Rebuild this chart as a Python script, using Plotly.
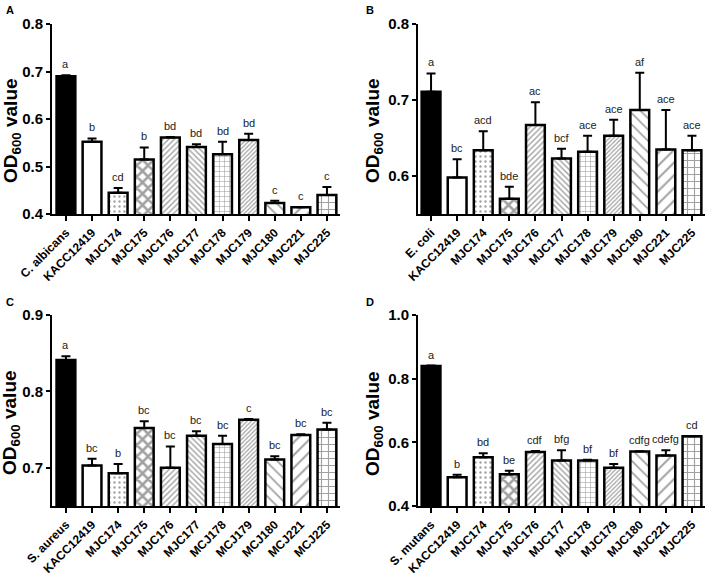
import plotly.graph_objects as go

W, H = 708, 580

cats_A = ["C. albicans", "KACC12419", "MJC174", "MJC175", "MJC176", "MJC177",
          "MJC178", "MJC179", "MJC180", "MJC221", "MJC225"]
vals_A = [0.690, 0.552, 0.445, 0.515, 0.561, 0.541, 0.526, 0.556, 0.423, 0.414, 0.440]
err_A = [0.002, 0.007, 0.010, 0.025, 0.001, 0.006, 0.026, 0.013, 0.005, 0.001, 0.017]
lab_A = ["a", "b", "cd", "b", "bd", "bd", "bd", "bd", "c", "c", "c"]

cats_B = ["E. coli", "KACC12419", "MJC174", "MJC175", "MJC176", "MJC177",
          "MJC178", "MJC179", "MJC180", "MJC221", "MJC225"]
vals_B = [0.711, 0.598, 0.634, 0.570, 0.667, 0.623, 0.632, 0.653, 0.687, 0.635, 0.634]
err_B = [0.024, 0.024, 0.025, 0.016, 0.030, 0.013, 0.021, 0.021, 0.049, 0.052, 0.019]
lab_B = ["a", "bc", "acd", "bde", "ac", "bcf", "ace", "ace", "af", "ace", "ace"]

cats_C = ["S. aureus", "KACC12419", "MJC174", "MJC175", "MJC176", "MJC177",
          "MCJ178", "MCJ179", "MCJ180", "MCJ221", "MCJ225"]
vals_C = [0.841, 0.703, 0.693, 0.752, 0.700, 0.742, 0.731, 0.763, 0.711, 0.743, 0.750]
err_C = [0.005, 0.009, 0.012, 0.009, 0.028, 0.006, 0.011, 0.001, 0.004, 0.001, 0.009]
lab_C = ["a", "bc", "b", "bc", "bc", "bc", "bc", "c", "bc", "bc", "bc"]

cats_D = ["S. mutans", "KACC12419", "MJC174", "MJC175", "MJC176", "MJC177",
          "MJC178", "MJC179", "MJC180", "MJC221", "MJC225"]
vals_D = [0.840, 0.490, 0.553, 0.500, 0.570, 0.543, 0.543, 0.520, 0.571, 0.559, 0.619]
err_D = [0.001, 0.008, 0.013, 0.011, 0.003, 0.032, 0.002, 0.012, 0.001, 0.016, 0.001]
lab_D = ["a", "b", "bd", "be", "cdf", "bfg", "bf", "bf", "cdfg", "cdefg", "cd"]

# fill styles per strain position
fill_colors = ["black"] + ["white"] * 10
pat_shapes = ["", "", ".", "x", "/", "\\", "+", "/", "\\", "/", "+"]
pat_sizes = [6, 6, 5, 8, 4, 4, 5, 3, 8, 9, 7]
pat_solid = [0.3, 0.3, 0.18, 0.55, 0.35, 0.35, 0.22, 0.4, 0.22, 0.22, 0.3]

panels = [
    dict(cats=cats_A, vals=vals_A, err=err_A, lab=lab_A, letter="A",
         xdom=(52, 340), ydom=(24, 214), yr=(0.4, 0.8), dt=0.1, x0=-0.534,
         tx=12, ty=131, lx=4, ly=2),
    dict(cats=cats_B, vals=vals_B, err=err_B, lab=lab_B, letter="B",
         xdom=(418, 705), ydom=(24, 214), yr=(0.55, 0.8), dt=0.1, x0=-0.5,
         tx=374, ty=131, lx=364, ly=2),
    dict(cats=cats_C, vals=vals_C, err=err_C, lab=lab_C, letter="C",
         xdom=(52, 340), ydom=(315, 506), yr=(0.65, 0.9), dt=0.1, x0=-0.534,
         tx=11, ty=423, lx=4, ly=294),
    dict(cats=cats_D, vals=vals_D, err=err_D, lab=lab_D, letter="D",
         xdom=(418, 705), ydom=(315, 506), yr=(0.4, 1.0), dt=0.2, x0=-0.5,
         tx=374, ty=424, lx=364, ly=294),
]

fig = go.Figure()
annotations = []
layout = {}
for i, p in enumerate(panels):
    n = i + 1
    xa = "x" if n == 1 else f"x{n}"
    ya = "y" if n == 1 else f"y{n}"
    xs = list(range(len(p["cats"])))
    fig.add_trace(go.Bar(
        x=xs, y=p["vals"], xaxis=xa, yaxis=ya, width=0.72,
        marker=dict(color=fill_colors, line=dict(color="black", width=2.5),
                    pattern=dict(shape=pat_shapes, size=pat_sizes,
                                 solidity=pat_solid, fgcolor="black")),
        error_y=dict(type="data", symmetric=False, array=p["err"],
                     arrayminus=[0] * len(xs), color="black",
                     thickness=2, width=4.5),
        showlegend=False, hoverinfo="skip"))
    for xi, v, e, t in zip(xs, p["vals"], p["err"], p["lab"]):
        annotations.append(dict(x=xi, y=v + e, xref=xa, yref=ya, text=t,
                                showarrow=False, xanchor="center",
                                yanchor="bottom", yshift=3,
                                font=dict(family="Liberation Sans", size=11,
                                          color="#222222")))
    annotations.append(dict(x=p["tx"] / W, y=1 - p["ty"] / H, xref="paper",
                            yref="paper", text="OD<sub>600</sub> value",
                            textangle=-90, showarrow=False,
                            xanchor="center", yanchor="middle",
                            font=dict(family="Liberation Sans", size=19,
                                      color="black", weight="bold")))
    annotations.append(dict(x=p["lx"] / W, y=1 - p["ly"] / H, xref="paper",
                            yref="paper", text=p["letter"], showarrow=False,
                            xanchor="left", yanchor="top",
                            font=dict(family="Liberation Sans", size=11,
                                      color="black", weight="bold")))
    xkey = "xaxis" if n == 1 else f"xaxis{n}"
    ykey = "yaxis" if n == 1 else f"yaxis{n}"
    layout[xkey] = dict(domain=[p["xdom"][0] / W, p["xdom"][1] / W],
                        anchor=ya, range=[p["x0"], 10.5], automargin=False,
                        tickvals=xs, ticktext=p["cats"], tickangle=-45,
                        ticks="outside", ticklen=5, tickwidth=2,
                        tickcolor="black", showline=True, linecolor="black",
                        linewidth=2, showgrid=False, zeroline=False,
                        tickfont=dict(family="Liberation Sans", size=12,
                                      color="black", weight="bold"),
                        fixedrange=True)
    layout[ykey] = dict(domain=[1 - p["ydom"][1] / H, 1 - p["ydom"][0] / H],
                        anchor=xa, range=list(p["yr"]), automargin=False,
                        tick0=0, dtick=p["dt"], tickformat=".1f",
                        ticks="outside", ticklen=4, tickwidth=2,
                        tickcolor="black", showline=True, linecolor="black",
                        linewidth=2, showgrid=False, zeroline=False,
                        tickfont=dict(family="Liberation Sans", size=15,
                                      color="black", weight="bold"),
                        fixedrange=True)

fig.update_layout(width=W, height=H, margin=dict(l=0, r=0, t=0, b=0),
                  paper_bgcolor="white", plot_bgcolor="white",
                  annotations=annotations, bargap=0.28, **layout)

fig.write_html("out.html", config={"displayModeBar": False},
               post_script="document.body.style.margin='0';"
                           "document.body.style.overflow='hidden';")
